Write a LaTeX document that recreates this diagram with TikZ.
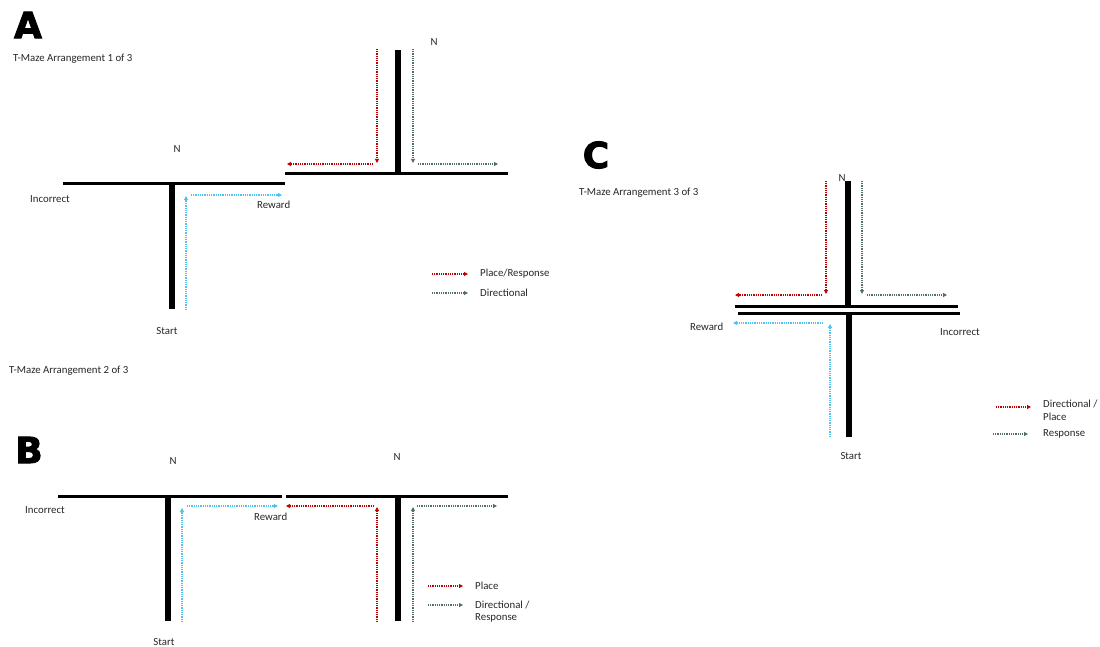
\documentclass[tikz,border=0pt]{standalone}
\usepackage{fontspec}
\setmainfont{Carlito}
\newfontfamily\panelfont{DejaVu Sans}[BoldFeatures={FakeBold=2.5}]
\usetikzlibrary{arrows.meta}
\definecolor{pred}{HTML}{C00000}
\definecolor{pgreen}{HTML}{52705F}
\definecolor{pcyan}{HTML}{4DC3EE}
\begin{document}
\begin{tikzpicture}[x=1pt,y=-1pt,
  wall/.style={line width=3pt, line cap=butt},
  stem/.style={line width=5.5pt, line cap=butt},
  trail/.style={line width=1.2pt, dash pattern=on 1pt off 0.8pt, -{Triangle[length=4pt,width=4pt]}},
  redt/.style={trail, draw=pred},
  greent/.style={trail, draw=pgreen},
  cyant/.style={trail, draw=pcyan},
  lbl/.style={font=\fontsize{10.8}{13}\selectfont, inner sep=0pt, text=black!85},
  letter/.style={font=\panelfont\bfseries\fontsize{36}{36}\selectfont, inner sep=0pt}
]
\useasboundingbox (0,0) rectangle (1100,647);

% ---------- Panel A ----------
\node[letter] (LA) at (28,25) {A};
\node[lbl, anchor=west] (tA) at (13,59) {T-Maze Arrangement 1 of 3};
\draw[wall] (63,184) -- (285,184);
\draw[stem] (172,184) -- (172,309);
\draw[wall] (285,174) -- (508,174);
\draw[stem] (398,174) -- (398,50);
\node[lbl] (nA1) at (177,149) {N};
\node[lbl] (nA2) at (434,42) {N};
\node[lbl, anchor=west] (incA) at (30,199) {Incorrect};
\node[lbl, anchor=west] (rewA) at (257,205) {Reward};
\node[lbl] (stA) at (167,331) {Start};
\coordinate (a1) at (186,310); \coordinate (a2) at (186,196);
\coordinate (a3) at (191,195); \coordinate (a4) at (282,195);
\coordinate (a5) at (377,49);  \coordinate (a6) at (377,163);
\coordinate (a7) at (373,164); \coordinate (a8) at (287,164);
\coordinate (a9) at (413,49);  \coordinate (a10) at (413,163);
\coordinate (a11) at (418,164); \coordinate (a12) at (498,164);
\draw[cyant] (a1) -- (a2);
\draw[cyant] (a3) -- (a4);
\draw[redt] (a5) -- (a6);
\draw[redt] (a7) -- (a8);
\draw[greent] (a9) -- (a10);
\draw[greent] (a11) -- (a12);
\coordinate (la1) at (432,274); \coordinate (la2) at (468,274);
\coordinate (la3) at (432,293); \coordinate (la4) at (468,293);
\draw[redt] (la1) -- (la2);
\draw[greent] (la3) -- (la4);
\node[lbl, anchor=west] (legA1) at (480,274) {Place/Response};
\node[lbl, anchor=west] (legA2) at (480,293) {Directional};

% ---------- Panel B ----------
\node[lbl, anchor=west] (tB) at (9,371) {T-Maze Arrangement 2 of 3};
\node[letter] (LB) at (29,450) {B};
\draw[wall] (58,496) -- (282,496);
\draw[wall] (286,496) -- (508,496);
\draw[stem] (168,496) -- (168,621);
\draw[stem] (398,496) -- (398,621);
\node[lbl] (nB1) at (173,461) {N};
\node[lbl] (nB2) at (397,457) {N};
\node[lbl, anchor=west] (incB) at (25,510) {Incorrect};
\node[lbl, anchor=west] (rewB) at (254,517) {Reward};
\node[lbl] (stB) at (164,642) {Start};
\coordinate (b1) at (182,622); \coordinate (b2) at (182,508);
\coordinate (b3) at (187,506); \coordinate (b4) at (278,506);
\coordinate (b5) at (377,622); \coordinate (b6) at (377,507);
\coordinate (b7) at (374,506); \coordinate (b8) at (286,506);
\coordinate (b9) at (413,622); \coordinate (b10) at (413,507);
\coordinate (b11) at (417,506); \coordinate (b12) at (497,506);
\draw[cyant] (b1) -- (b2);
\draw[cyant] (b3) -- (b4);
\draw[redt] (b5) -- (b6);
\draw[redt] (b7) -- (b8);
\draw[greent] (b9) -- (b10);
\draw[greent] (b11) -- (b12);
\coordinate (lb1) at (428,586); \coordinate (lb2) at (463,586);
\coordinate (lb3) at (428,605); \coordinate (lb4) at (463,605);
\draw[redt] (lb1) -- (lb2);
\draw[greent] (lb3) -- (lb4);
\node[lbl, anchor=west] (legB1) at (475,586) {Place};
\node[lbl, anchor=west] (legB2) at (475,605) {Directional /};
\node[lbl, anchor=west] (legB3) at (475,618) {Response};

% ---------- Panel C ----------
\node[letter] (LC) at (596,155) {C};
\node[lbl, anchor=west] (tC) at (579,193) {T-Maze Arrangement 3 of 3};
\draw[wall] (735,306) -- (958,306);
\draw[wall] (738,313) -- (960,313);
\draw[stem] (848,181) -- (848,306);
\draw[stem] (849,313) -- (849,437);
\node[lbl] (nC) at (842,178) {N};
\node[lbl, anchor=west] (rewC) at (690,327) {Reward};
\node[lbl, anchor=west] (incC) at (940,332) {Incorrect};
\node[lbl] (stC) at (851,456) {Start};
\coordinate (c1) at (826,181); \coordinate (c2) at (826,294);
\coordinate (c3) at (822,295); \coordinate (c4) at (735,295);
\coordinate (c5) at (862,181); \coordinate (c6) at (862,294);
\coordinate (c7) at (867,295); \coordinate (c8) at (947,295);
\coordinate (c9) at (830,437); \coordinate (c10) at (830,324);
\coordinate (c11) at (823,323); \coordinate (c12) at (733,323);
\draw[redt] (c1) -- (c2);
\draw[redt] (c3) -- (c4);
\draw[greent] (c5) -- (c6);
\draw[greent] (c7) -- (c8);
\draw[cyant] (c9) -- (c10);
\draw[cyant] (c11) -- (c12);
\coordinate (lc1) at (996,407); \coordinate (lc2) at (1031,407);
\coordinate (lc3) at (993,434); \coordinate (lc4) at (1028,434);
\draw[redt] (lc1) -- (lc2);
\draw[greent] (lc3) -- (lc4);
\node[lbl, anchor=west] (legC1) at (1043,404) {Directional /};
\node[lbl, anchor=west] (legC2) at (1043,417) {Place};
\node[lbl, anchor=west] (legC3) at (1043,434) {Response};
\end{tikzpicture}
\end{document}
